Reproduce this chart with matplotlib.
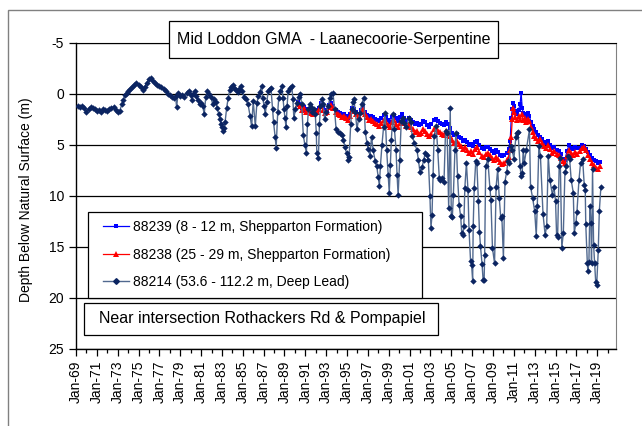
import matplotlib
matplotlib.use("Agg")
import matplotlib.pyplot as plt
from matplotlib.patches import Rectangle
from matplotlib.lines import Line2D

plt.rcParams['font.family'] = ['Liberation Sans', 'DejaVu Sans']

# 88214 (deep lead) - decimal years / depth (m)
t_88214 = [1969.2, 1969.4, 1969.6, 1969.8, 1970.0, 1970.2, 1970.4, 1970.6, 1970.8, 1971.0,
           1971.2, 1971.4, 1971.6, 1971.8, 1972.0, 1972.2, 1972.4, 1972.6, 1972.8, 1973.0,
           1973.2, 1973.4, 1973.55, 1973.7, 1973.85, 1974.0, 1974.2, 1974.4, 1974.6, 1974.8,
           1975.0, 1975.2, 1975.4, 1975.6, 1975.8, 1976.0, 1976.2, 1976.4, 1976.6, 1976.8,
           1977.0, 1977.2, 1977.4, 1977.6, 1977.8, 1978.0, 1978.2, 1978.4, 1978.55, 1978.65,
           1978.8, 1979.0, 1979.2, 1979.4, 1979.6, 1979.8, 1980.0, 1980.1, 1980.25, 1980.4,
           1980.55, 1980.7, 1980.85, 1981.0, 1981.15, 1981.3, 1981.45, 1981.6, 1981.8, 1981.95,
           1982.1, 1982.25, 1982.4, 1982.55, 1982.7, 1982.8, 1982.9, 1983.0, 1983.1, 1983.2,
           1983.3, 1983.45, 1983.6, 1983.75, 1983.9, 1984.05, 1984.2, 1984.35, 1984.5, 1984.65,
           1984.8, 1984.95, 1985.1, 1985.3, 1985.5, 1985.7, 1985.85, 1986.0, 1986.2, 1986.35,
           1986.5, 1986.65, 1986.8, 1986.9, 1987.05, 1987.15, 1987.3, 1987.45, 1987.6, 1987.7,
           1987.85, 1987.95, 1988.1, 1988.2, 1988.35, 1988.45, 1988.6, 1988.75, 1988.85, 1988.95,
           1989.05, 1989.15, 1989.25, 1989.35, 1989.5, 1989.7, 1989.8, 1989.9, 1990.05, 1990.2,
           1990.35, 1990.5, 1990.65, 1990.8, 1990.95, 1991.1, 1991.2, 1991.3, 1991.45, 1991.55,
           1991.65, 1991.8, 1991.95, 1992.05, 1992.1, 1992.25, 1992.35, 1992.45, 1992.55, 1992.7,
           1992.85, 1993.0, 1993.2, 1993.35, 1993.5, 1993.65, 1993.8, 1993.95, 1994.15, 1994.35,
           1994.5, 1994.65, 1994.8, 1994.95, 1995.1, 1995.2, 1995.35, 1995.45, 1995.55, 1995.65,
           1995.8, 1995.95, 1996.1, 1996.25, 1996.4, 1996.6, 1996.75, 1996.9, 1997.05, 1997.2,
           1997.35, 1997.5, 1997.7, 1997.85, 1998.0, 1998.1, 1998.2, 1998.35, 1998.5, 1998.65,
           1998.8, 1998.95, 1999.05, 1999.15, 1999.25, 1999.4, 1999.55, 1999.7, 1999.8, 1999.9,
           2000.05, 2000.2, 2000.35, 2000.5, 2000.7, 2000.9, 2001.1, 2001.25, 2001.45, 2001.7,
           2001.85, 2002.0, 2002.2, 2002.35, 2002.5, 2002.65, 2002.8, 2002.95, 2003.05, 2003.15,
           2003.25, 2003.35, 2003.55, 2003.7, 2003.85, 2003.95, 2004.1, 2004.3, 2004.45, 2004.6,
           2004.75, 2004.9, 2005.0, 2005.1, 2005.2, 2005.35, 2005.45, 2005.6, 2005.75, 2005.9,
           2006.0, 2006.1, 2006.2, 2006.3, 2006.45, 2006.6, 2006.7, 2006.85, 2006.95, 2007.05,
           2007.1, 2007.2, 2007.35, 2007.45, 2007.6, 2007.7, 2007.8, 2007.95, 2008.05, 2008.15,
           2008.2, 2008.3, 2008.5, 2008.7, 2008.8, 2008.95, 2009.15, 2009.3, 2009.45, 2009.6,
           2009.75, 2009.85, 2010.0, 2010.15, 2010.3, 2010.45, 2010.55, 2010.7, 2010.85, 2011.0,
           2011.2, 2011.3, 2011.4, 2011.6, 2011.7, 2011.8, 2011.9, 2012.0, 2012.2, 2012.5,
           2012.6, 2012.8, 2013.0, 2013.15, 2013.25, 2013.4, 2013.55, 2013.8, 2014.0, 2014.15,
           2014.3, 2014.45, 2014.7, 2014.85, 2015.0, 2015.1, 2015.2, 2015.35, 2015.45, 2015.6,
           2015.75, 2015.9, 2016.05, 2016.2, 2016.35, 2016.5, 2016.7, 2016.8, 2016.95, 2017.05,
           2017.25, 2017.4, 2017.6, 2017.75, 2017.85, 2017.9, 2018.05, 2018.1, 2018.2, 2018.3,
           2018.4, 2018.45, 2018.55, 2018.65, 2018.75, 2018.85, 2018.95, 2019.1, 2019.2, 2019.35]
d_88214 = [1.2, 1.3, 1.2, 1.4, 1.8, 1.5, 1.3, 1.4, 1.5, 1.7,
           1.6, 1.8, 1.5, 1.6, 1.7, 1.5, 1.4, 1.3, 1.6, 1.8,
           1.7, 1.0, 0.6, 0.1, -0.1, -0.3, -0.5, -0.7, -0.9, -1.1,
           -0.9, -0.7, -0.4, -0.7, -1.1, -1.4, -1.5, -1.2, -1.1, -0.9,
           -0.8, -0.7, -0.5, -0.3, 0.0, 0.1, 0.3, 0.4, 0.2, 1.3,
           -0.1, 0.2, 0.1, 0.3, -0.1, -0.3, 0.1, 0.6, 0.0, -0.3,
           0.2, 0.6, 1.0, 0.9, 1.2, 2.0, 0.3, -0.3, 0.0, 0.3,
           1.0, 0.5, 0.8, 1.4, 2.0, 2.5, 3.0, 3.3, 3.6, 3.4,
           2.8, 1.4, 0.4, -0.4, -0.7, -0.9, -0.6, -0.4, -0.2, -0.5,
           -0.8, -0.3, 0.3, 0.5, 1.0, 2.2, 3.2, 0.7, 3.2, 0.9,
           0.2, -0.2, -0.8, 0.4, 1.2, 2.0, 0.8, -0.3, -0.5, -0.6,
           1.5, 2.8, 4.2, 5.3, 1.8, 0.4, -0.3, -0.8, 0.4, 1.5,
           2.4, 3.3, 1.2, -0.3, -0.6, -0.8, 0.5, 2.4, 1.5, 0.9,
           0.3, 0.0, 1.0, 4.0, 5.0, 5.8, 3.0, 1.5, 1.0, 1.3,
           1.8, 1.5, 2.0, 3.8, 5.8, 6.3, 3.0, 1.2, 0.5, 1.0,
           2.5, 1.8, 1.2, 0.4, 0.0, -0.1, 1.5, 3.5, 3.7, 3.8,
           4.0, 4.5, 5.2, 5.8, 6.5, 6.2, 3.0, 1.5, 0.8, 0.5,
           1.8, 3.5, 2.5, 1.9, 1.0, 0.4, 3.7, 4.8, 5.4, 6.1,
           4.2, 5.5, 6.6, 7.1, 8.2, 9.0, 7.1, 5.0, 3.3, 1.9,
           5.5, 8.0, 9.7, 7.0, 4.5, 2.0, 3.5, 5.5, 8.0, 9.9,
           6.5, 2.7, 2.4, 2.9, 3.3, 2.4, 2.8, 4.1, 4.8, 5.5,
           6.5, 7.7, 7.2, 6.5, 5.8, 6.0, 6.5, 10.0, 13.1, 11.9,
           8.0, 4.1, 3.2, 5.5, 8.3, 8.4, 8.3, 8.6, 3.6, 3.8,
           11.2, 1.4, 12.0, 12.1, 9.9, 5.5, 3.8, 8.1, 10.9, 12.0,
           13.6, 13.8, 13.0, 9.2, 6.8, 9.4, 13.3, 16.4, 16.8, 18.3,
           13.0, 9.2, 6.6, 6.8, 10.5, 13.5, 14.9, 16.7, 18.2, 18.2,
           15.8, 7.1, 6.4, 9.2, 10.4, 15.1, 16.6, 9.1, 7.4, 10.2,
           12.2, 12.0, 16.1, 8.6, 7.7, 6.6, 6.8, 5.1, 5.5, 6.4,
           4.2, 3.8, 3.7, 7.1, 8.1, 7.8, 5.5, 6.8, 5.5, 3.5,
           9.1, 10.2, 11.5, 13.9, 11.0, 5.1, 6.1, 11.8, 13.8, 13.0,
           6.1, 8.4, 9.9, 9.1, 10.5, 13.8, 14.0, 7.1, 6.3, 15.1,
           13.6, 7.7, 7.1, 6.1, 6.4, 8.4, 9.7, 13.6, 12.7, 11.6,
           8.4, 6.8, 6.4, 8.9, 9.4, 12.8, 16.6, 17.4, 16.5, 11.0,
           12.7, 16.6, 7.4, 14.8, 16.6, 18.4, 18.7, 15.3, 11.5, 9.1]

# 88238 (25 - 29 m)
t_88238 = [1990.3, 1990.5, 1990.7, 1990.9, 1991.1, 1991.3, 1991.5, 1991.7, 1991.9, 1992.1,
           1992.3, 1992.5, 1992.7, 1992.9, 1993.1, 1993.3, 1993.5, 1993.7, 1993.9, 1994.1,
           1994.3, 1994.5, 1994.7, 1994.9, 1995.1, 1995.3, 1995.5, 1995.7, 1995.9, 1996.1,
           1996.3, 1996.5, 1996.7, 1996.9, 1997.1, 1997.3, 1997.5, 1997.7, 1997.9, 1998.1,
           1998.3, 1998.5, 1998.7, 1998.9, 1999.1, 1999.3, 1999.5, 1999.7, 1999.9, 2000.1,
           2000.3, 2000.5, 2000.7, 2000.9, 2001.1, 2001.3, 2001.5, 2001.7, 2001.9, 2002.1,
           2002.3, 2002.5, 2002.7, 2002.9, 2003.1, 2003.3, 2003.5, 2003.7, 2003.9, 2004.1,
           2004.3, 2004.5, 2004.7, 2004.9, 2005.1, 2005.3, 2005.5, 2005.7, 2005.9, 2006.1,
           2006.3, 2006.5, 2006.7, 2006.9, 2007.1, 2007.3, 2007.5, 2007.7, 2007.9, 2008.1,
           2008.3, 2008.5, 2008.7, 2008.9, 2009.1, 2009.3, 2009.5, 2009.7, 2009.9, 2010.1,
           2010.3, 2010.5, 2010.65, 2010.75, 2010.85, 2010.95, 2011.05, 2011.15, 2011.3, 2011.45,
           2011.6, 2011.75, 2011.9, 2012.05, 2012.2, 2012.35, 2012.5, 2012.65, 2012.8, 2012.95,
           2013.1, 2013.3, 2013.5, 2013.7, 2013.9, 2014.1, 2014.3, 2014.5, 2014.7, 2014.9,
           2015.1, 2015.3, 2015.5, 2015.7, 2015.9, 2016.1, 2016.3, 2016.5, 2016.7, 2016.9,
           2017.1, 2017.3, 2017.5, 2017.7, 2017.9, 2018.1, 2018.3, 2018.5, 2018.7, 2018.9,
           2019.1, 2019.3]
d_88238 = [1.0, 1.2, 1.6, 1.4, 1.8, 1.6, 1.9, 2.0, 1.7, 1.8,
           1.5, 1.2, 1.6, 1.9, 1.8, 1.3, 1.1, 1.4, 1.8, 2.0,
           2.1, 2.3, 2.2, 2.4, 2.6, 2.2, 1.6, 1.7, 2.0, 2.2,
           1.8, 1.5, 2.0, 2.3, 2.6, 2.5, 2.7, 2.9, 3.0, 3.2,
           2.9, 2.6, 2.8, 3.1, 3.3, 2.8, 2.6, 3.0, 3.3, 2.9,
           2.6, 2.9, 3.2, 3.0, 3.3, 3.5, 3.7, 3.6, 3.9, 3.8,
           3.5, 3.6, 3.9, 4.1, 3.9, 3.5, 3.4, 3.6, 3.7, 3.9,
           4.0, 3.6, 3.8, 4.1, 4.5, 4.8, 4.6, 4.9, 5.1, 5.4,
           5.2, 5.5, 5.8, 5.6, 5.9, 5.4, 5.2, 5.7, 6.1, 6.2,
           5.9, 5.8, 6.0, 6.3, 6.5, 6.2, 6.4, 6.7, 6.9, 6.8,
           6.5, 6.2, 5.5, 4.2, 2.5, 1.4, 1.8, 2.3, 2.6, 2.2,
           2.5, 2.0, 2.6, 2.4, 2.8, 2.5, 2.7, 3.3, 3.7, 4.1,
           4.3, 4.6, 4.4, 4.8, 5.1, 5.3, 5.0, 5.4, 5.8, 5.6,
           5.9, 6.0, 6.3, 6.6, 6.8, 6.1, 5.5, 5.8, 6.0, 5.7,
           5.9, 5.6, 5.3, 5.2, 5.5, 6.0, 6.4, 6.8, 7.0, 7.3,
           7.4, 7.1]

# 88239 (8 - 12 m)
t_88239 = [1990.3, 1990.5, 1990.7, 1990.9, 1991.1, 1991.3, 1991.5, 1991.7, 1991.9, 1992.1,
           1992.3, 1992.5, 1992.7, 1992.9, 1993.1, 1993.3, 1993.5, 1993.7, 1993.9, 1994.1,
           1994.3, 1994.5, 1994.7, 1994.9, 1995.1, 1995.3, 1995.5, 1995.7, 1995.9, 1996.1,
           1996.3, 1996.5, 1996.7, 1996.9, 1997.1, 1997.3, 1997.5, 1997.7, 1997.9, 1998.1,
           1998.3, 1998.5, 1998.7, 1998.9, 1999.1, 1999.3, 1999.5, 1999.7, 1999.9, 2000.1,
           2000.3, 2000.5, 2000.7, 2000.9, 2001.1, 2001.3, 2001.5, 2001.7, 2001.9, 2002.1,
           2002.3, 2002.5, 2002.7, 2002.9, 2003.1, 2003.3, 2003.5, 2003.7, 2003.9, 2004.1,
           2004.3, 2004.5, 2004.7, 2004.9, 2005.1, 2005.3, 2005.5, 2005.7, 2005.9, 2006.1,
           2006.3, 2006.5, 2006.7, 2006.9, 2007.1, 2007.3, 2007.5, 2007.7, 2007.9, 2008.1,
           2008.3, 2008.5, 2008.7, 2008.9, 2009.1, 2009.3, 2009.5, 2009.7, 2009.9, 2010.1,
           2010.3, 2010.5, 2010.65, 2010.75, 2010.85, 2010.95, 2011.05, 2011.15, 2011.3, 2011.45,
           2011.6, 2011.7, 2011.8, 2011.9, 2012.05, 2012.2, 2012.35, 2012.5, 2012.65, 2012.8,
           2012.95, 2013.1, 2013.3, 2013.5, 2013.7, 2013.9, 2014.1, 2014.3, 2014.5, 2014.7,
           2014.9, 2015.1, 2015.3, 2015.5, 2015.7, 2015.9, 2016.1, 2016.3, 2016.5, 2016.7,
           2016.9, 2017.1, 2017.3, 2017.5, 2017.7, 2017.9, 2018.1, 2018.3, 2018.5, 2018.7,
           2018.9, 2019.1, 2019.3]
d_88239 = [0.8, 1.0, 1.4, 1.3, 1.6, 1.5, 1.8, 1.9, 1.6, 1.7,
           1.4, 0.9, 1.3, 1.6, 1.6, 1.1, 0.9, 1.2, 1.6, 1.8,
           1.9, 2.1, 2.0, 2.2, 2.4, 2.0, 1.4, 1.5, 1.8, 2.0,
           1.6, 1.3, 1.8, 2.1, 2.3, 2.2, 2.3, 2.5, 2.6, 2.7,
           2.4, 2.1, 2.3, 2.6, 2.8, 2.3, 2.1, 2.4, 2.7, 2.3,
           2.0, 2.4, 2.7, 2.4, 2.6, 2.8, 3.0, 2.9, 3.1, 3.0,
           2.7, 2.8, 3.1, 3.3, 3.0, 2.6, 2.5, 2.7, 2.9, 3.0,
           3.1, 2.8, 3.0, 3.4, 3.8, 4.0, 3.9, 4.2, 4.3, 4.6,
           4.5, 4.7, 5.0, 4.9, 5.1, 4.7, 4.6, 5.0, 5.3, 5.4,
           5.2, 5.2, 5.4, 5.6, 5.8, 5.5, 5.7, 6.0, 6.1, 6.0,
           5.8, 5.4, 4.6, 2.4, 1.5, 0.9, 1.2, 1.7, 2.0, 1.6,
           1.0, -0.1, 1.4, 1.9, 2.0, 2.3, 1.9, 2.2, 2.8, 3.2,
           3.5, 3.7, 4.0, 4.2, 4.4, 4.7, 4.8, 4.6, 5.0, 5.3,
           5.2, 5.5, 5.6, 5.9, 6.4, 6.5, 5.6, 5.0, 5.3, 5.4,
           5.2, 5.3, 5.3, 5.0, 5.1, 5.4, 5.7, 6.0, 6.3, 6.5,
           6.6, 6.8, 6.7]

tick_years = list(range(1969, 2020, 2))
tick_labels = ['Jan-%02d' % (y % 100) for y in tick_years]

fig = plt.figure(figsize=(6.42, 4.26), dpi=100)
ax = fig.add_axes([76 / 642, 1 - 349 / 426, 540 / 642, (349 - 42.7) / 426])

# chart area border (runs off the right and bottom edges)
fig.add_artist(Rectangle((8 / 642, -0.2), 1.2, 1.2 - 10 / 426,
                         transform=fig.transFigure, fill=False, edgecolor='#808080',
                         linewidth=1.0, clip_on=False))

ax.plot(t_88239, d_88239, color='blue', marker='s', markersize=3.2, linewidth=0.9,
        markeredgewidth=0, zorder=3)
ax.plot(t_88238, d_88238, color='red', marker='^', markersize=4.3, linewidth=0.9,
        markeredgewidth=0, zorder=4)
ax.plot(t_88214, d_88214, color='#51698f', marker='D', markersize=2.9, linewidth=1.0,
        markerfacecolor='#0b2461', markeredgecolor='#0b2461', markeredgewidth=0.3, zorder=5)

ax.set_xlim(1969, 2020.8)
ax.set_ylim(25, -5)
ax.set_yticks([-5, 0, 5, 10, 15, 20, 25])
ax.set_yticklabels(['-5', '0', '5', '10', '15', '20', '25'])
ax.set_xticks(tick_years)
ax.set_xticklabels(tick_labels, rotation=90)
ax.set_xticks(range(1969, 2021), minor=True)
ax.tick_params(axis='both', labelsize=10, color='black', direction='out')
ax.tick_params(axis='x', which='major', length=5, width=0.9)
ax.tick_params(axis='x', which='minor', length=3, width=0.9)
ax.tick_params(axis='y', length=5, width=0.9)
ax.yaxis.grid(True, color='black', linewidth=0.9)
ax.set_axisbelow(True)
ax.spines['right'].set_color('#808080')
ax.spines['top'].set_color('black')
for s in ['left', 'bottom']:
    ax.spines[s].set_linewidth(1.0)

fig.text(26 / 642, 1 - 200 / 426, 'Depth Below Natural Surface (m)', rotation=90,
         ha='center', va='center', fontsize=10)

# title box
fig.add_artist(Rectangle((169 / 642, 1 - 58 / 426), 329 / 642, 37 / 426,
                         transform=fig.transFigure, facecolor='white', edgecolor='black',
                         linewidth=0.9, zorder=10))
fig.text(333.5 / 642, 1 - 39.5 / 426, 'Mid Loddon GMA  - Laanecoorie-Serpentine',
         ha='center', va='center', fontsize=11.5, zorder=11)

# legend box
fig.add_artist(Rectangle((88 / 642, 1 - 298 / 426), 334 / 642, 86 / 426,
                         transform=fig.transFigure, facecolor='white', edgecolor='black',
                         linewidth=0.9, zorder=10))
handles = [Line2D([], [], color='blue', marker='s', markersize=3.2, markeredgewidth=0, linewidth=0.9),
           Line2D([], [], color='red', marker='^', markersize=4.3, markeredgewidth=0, linewidth=0.9),
           Line2D([], [], color='#51698f', marker='D', markersize=2.9, linewidth=1.0,
                  markerfacecolor='#0b2461', markeredgecolor='#0b2461')]
labels = ['88239 (8 - 12 m, Shepparton Formation)',
          '88238 (25 - 29 m, Shepparton Formation)',
          '88214 (53.6 - 112.2 m, Deep Lead)']
leg = fig.legend(handles, labels, loc='upper left', bbox_to_anchor=(103 / 642, 1 - 220 / 426),
                 frameon=False, fontsize=10, handlelength=1.9, handletextpad=0.25,
                 labelspacing=0.98, borderpad=0, borderaxespad=0)
leg.set_zorder(12)

# location note
fig.add_artist(Rectangle((84 / 642, 1 - 335 / 426), 354 / 642, 32 / 426,
                         transform=fig.transFigure, facecolor='white', edgecolor='black',
                         linewidth=0.9, zorder=10))
fig.text(262 / 642, 1 - 319 / 426, 'Near intersection Rothackers Rd & Pompapiel',
         ha='center', va='center', fontsize=11.5, zorder=11)

fig.savefig('out.png', dpi=100)
